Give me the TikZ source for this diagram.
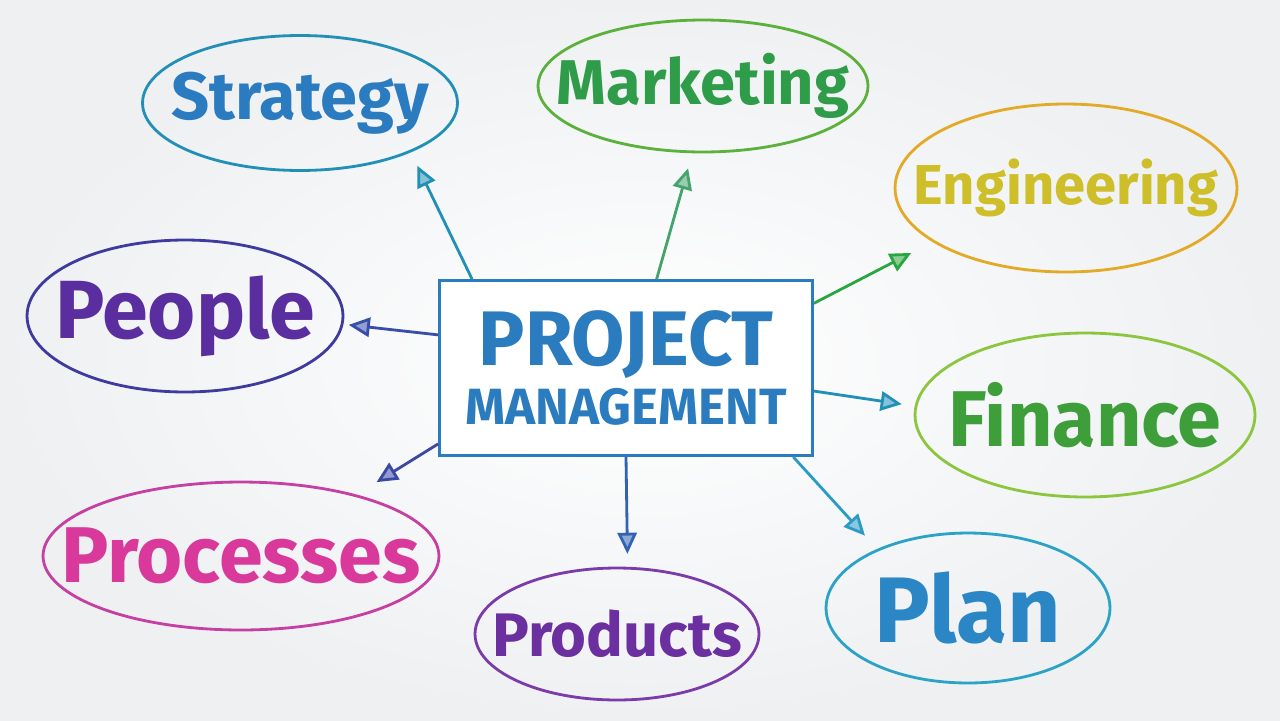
\documentclass[tikz,border=0pt]{standalone}
\usepackage{fontspec}
\setmainfont{Fira Sans}
\usepackage{tikz}
\usetikzlibrary{shapes.geometric,arrows.meta,positioning}
\definecolor{pmblue}{HTML}{2A7CBE}
\definecolor{stratline}{HTML}{2290B6}
\definecolor{stratink}{HTML}{2B7BC0}
\definecolor{markline}{HTML}{5CB03C}
\definecolor{markink}{HTML}{2E9C48}
\definecolor{engline}{HTML}{E2AA26}
\definecolor{engink}{HTML}{CDBE2A}
\definecolor{peopleline}{HTML}{3E3A9E}
\definecolor{peopleink}{HTML}{5A2E9E}
\definecolor{finline}{HTML}{8CC63F}
\definecolor{finink}{HTML}{3E9E3A}
\definecolor{procline}{HTML}{C63FA3}
\definecolor{procink}{HTML}{D8399B}
\definecolor{prodline}{HTML}{7B3BA8}
\definecolor{prodink}{HTML}{6B2F9F}
\definecolor{planline}{HTML}{2BA3C6}
\definecolor{planink}{HTML}{2A86C4}
\definecolor{bggray}{HTML}{EEF0F2}

\begin{document}
\begin{tikzpicture}
[
  x=0.02cm, y=-0.02cm,
  topic/.style={ellipse, draw=#1, line width=1.6pt, inner sep=-40pt, font=\bfseries},
  link/.style={draw=#1, line width=1.6pt, -{Triangle[length=12pt,width=11pt,fill=#1!55]}}
]
\shade [inner color=white, outer color=bggray] (0,0) rectangle (1280,720);

\node (pm) [draw=pmblue, fill=white, line width=1.6pt, minimum width=7.46cm, minimum height=3.5cm,
  text=pmblue, align=center, font=\bfseries] at (626,368)
  {\fontsize{44}{46}\selectfont PROJECT\\[5pt]\fontsize{29}{31}\selectfont MANAGEMENT};

\node (strategy) [topic=stratline, text=stratink, minimum width=6.3cm, minimum height=2.7cm]
  at (300,103) {\fontsize{38}{40}\selectfont Strategy};
\node (marketing) [topic=markline, text=markink, minimum width=6.6cm, minimum height=2.64cm]
  at (703,86) {\fontsize{36}{40}\selectfont Marketing};
\node (engineering) [topic=engline, text=engink, minimum width=6.84cm, minimum height=3.36cm]
  at (1066,188) {\fontsize{32}{34}\selectfont Engineering};
\node (people) [topic=peopleline, text=peopleink, minimum width=6.32cm, minimum height=3.04cm]
  at (185,316) {\fontsize{47}{50}\selectfont People};
\node (finance) [topic=finline, text=finink, minimum width=6.8cm, minimum height=3.28cm]
  at (1085,415) {\fontsize{45}{46}\selectfont Finance};
\node (processes) [topic=procline, text=procink, minimum width=7.92cm, minimum height=2.96cm]
  at (241,556) {\fontsize{45}{46}\selectfont Processes};
\node (products) [topic=prodline, text=prodink, minimum width=5.68cm, minimum height=2.64cm]
  at (617,634) {\fontsize{35}{38}\selectfont Products};
\node (plan) [topic=planline, text=planink, minimum width=5.68cm, minimum height=3.0cm]
  at (968,608) {\fontsize{53}{54}\selectfont Plan};

% arrows out of the box
\draw [link=stratline, shorten >=8.5pt] (pm.150) -- (strategy.-24);
\draw [link=markline!60!stratline, shorten >=8.9pt] (pm.71) -- (marketing.-99);
\draw [link=markink!90!green, shorten >=13.6pt] (pm.19) -- (engineering.202);
\draw [link=peopleline!70!pmblue, shorten >=3pt] (pm.170) -- (people.-3);
\draw [link=stratline, shorten >=7.4pt] (pm.-7) -- (finance.177);
\draw [link=peopleline!80!pmblue, shorten >=13.4pt] (pm.202) -- (processes.28);
\draw [link=peopleline!40!pmblue, shorten >=7.4pt] (pm.-90) -- (products.81);
\draw [link=planline!80!pmblue, shorten >=10.2pt] (pm.-28) -- (plan.147);
\end{tikzpicture}
\end{document}
